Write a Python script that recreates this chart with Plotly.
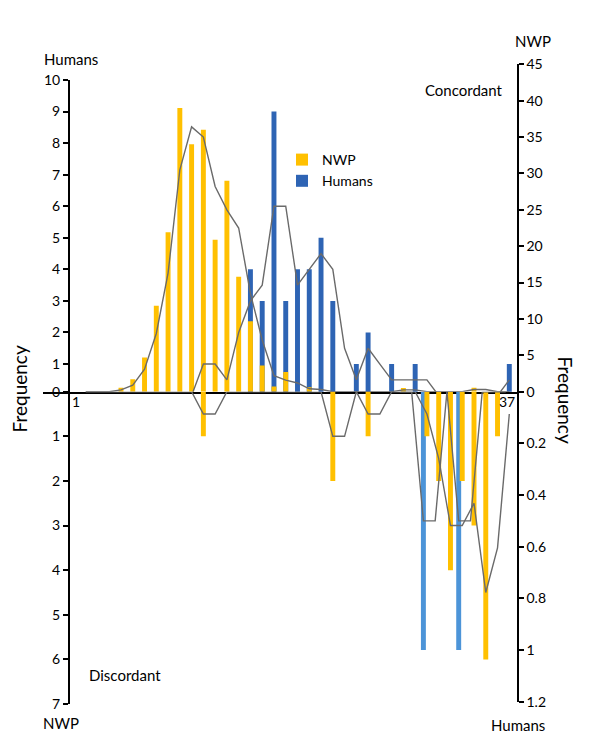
import plotly.graph_objects as go

# ---------------- data ----------------
categories = list(range(1, 38))

# Concordant (upper half)
nwp_concordant = [0, 0, 0, 0.55, 1.7, 4.7, 11.8, 21.9, 39.0, 34.0,
                  36.0, 20.9, 29.0, 15.8, 9.7, 3.6, 0.7, 2.7, 0, 0.6,
                  0, 0, 0, 0, 0, 0, 0, 0.5, 0, 0,
                  0, 0, 0, 0.55, 0, 0, 0]
humans_concordant = [0, 0, 0, 0, 0, 0, 0, 0, 0, 0,
                     0, 0, 0, 0, 4, 3, 9, 3, 4, 4,
                     5, 3, 0, 1, 2, 0, 1, 0, 1, 0,
                     0, 0, 0, 0, 0, 0, 1]

# Discordant (lower half)
nwp_discordant = [0, 0, 0, 0, 0, 0, 0, 0, 0, 0,
                  1, 0, 0, 0, 0, 0, 0, 0, 0, 0,
                  0, 2, 0, 0, 1, 0, 0, 0, 0, 1,
                  2, 4, 2, 3, 6, 1, 0]
humans_discordant = [0, 0, 0, 0, 0, 0, 0, 0, 0, 0,
                     0, 0, 0, 0, 0, 0, 0, 0, 0, 0,
                     0, 0, 0, 0, 0, 0, 0, 0, 0, 1,
                     0, 0, 1, 0, 0, 0, 0]

# trend lines (2-period moving averages as drawn)
nwp_conc_trend = [0, 0, 0, 0.25, 0.9, 3.1, 8.0, 16.3, 30.5, 36.4,
                  35.0, 28.2, 25.0, 22.5, 13.5, 7.1, 2.2, 1.6, 1.2, 0.4,
                  0.3, 0, 0, 0, 0, 0, 0, 0.25, 0.25, 0,
                  0, 0, 0, 0.3, 0.3, 0, 0]
humans_conc_trend = [0, 0, 0, 0, 0, 0, 0, 0, 0, 0,
                     1, 1, 0.5, 2, 3, 3.5, 6, 6, 3.5, 4,
                     4.5, 4, 1.5, 0.5, 1.5, 1, 0.5, 0.5, 0.5, 0.5,
                     0, 0, 0, 0, 0, 0, 0.5]
nwp_disc_trend = [0, 0, 0, 0, 0, 0, 0, 0, 0, 0,
                  0.5, 0.5, 0, 0, 0, 0, 0, 0, 0, 0,
                  0, 1, 1, 0, 0.5, 0.5, 0, 0, 0, 0.5,
                  1.5, 3, 3, 2.5, 4.5, 3.5, 0.5]
humans_disc_trend = [None, None, None, None, None, None, None, None, None, None,
                     None, None, None, None, None, None, None, None, None, None,
                     None, None, None, None, None, None, None, 0, 0, 0.5,
                     0.5, 0, 0.5, 0.5, 0, 0, 0]

left_upper_ticks = ["0", "1", "2", "3", "4", "5", "6", "7", "8", "9", "10"]
left_lower_ticks = ["1", "2", "3", "4", "5", "6", "7"]
right_lower_ticks = ["0.2", "0.4", "0.6", "0.8", "1", "1.2"]

# ---------------- style / layout ----------------
W, H = 600, 755
FONT = "Lato"
YELLOW = "#FFC000"
BLUE = "#2E64B4"
LBLUE = "#4C94D8"
LINE = "#6a6a6a"


def fx(p):
    return p / W


def fy(p):
    return (H - p) / H


ZERO = 391.7
TOP_L, TOP_R = 80.0, 64.3
BOT_L, BOT_R = 704.0, 701.7
X_LEFT, X_AXIS_L, X_AXIS_R = 43.0, 69.0, 516.7

# left-upper scale: value 10 at TOP_L, tick "0" at the zero line (axis min 0.124)
lu_min = 0.124
lu_scale = (ZERO - TOP_L) / (10 - lu_min)
rl_scale = (BOT_R - ZERO) / 1.2

fig = go.Figure()

bw = 0.42
fig.add_trace(go.Bar(x=categories, y=humans_concordant, name="Humans", marker_color=BLUE,
                     width=bw, xaxis="x", yaxis="y", legendrank=2))
fig.add_trace(go.Bar(x=categories, y=nwp_concordant, name="NWP", marker_color=YELLOW,
                     width=bw, xaxis="x", yaxis="y2", legendrank=1))
fig.add_trace(go.Bar(x=categories, y=humans_discordant, name="Humans discordant", marker_color=LBLUE,
                     width=bw, offset=-bw / 2 - 0.3, xaxis="x", yaxis="y3", showlegend=False))
fig.add_trace(go.Bar(x=categories, y=nwp_discordant, name="NWP discordant", marker_color=YELLOW,
                     width=bw, xaxis="x", yaxis="y4", showlegend=False))

line_style = dict(color=LINE, width=1.4)
fig.add_trace(go.Scatter(x=categories, y=nwp_conc_trend, mode="lines", line=line_style,
                         xaxis="x", yaxis="y2", showlegend=False, hoverinfo="skip"))
fig.add_trace(go.Scatter(x=categories, y=humans_conc_trend, mode="lines", line=line_style,
                         xaxis="x", yaxis="y5", showlegend=False, hoverinfo="skip"))
fig.add_trace(go.Scatter(x=categories, y=nwp_disc_trend, mode="lines", line=line_style,
                         xaxis="x", yaxis="y4", showlegend=False, hoverinfo="skip"))
fig.add_trace(go.Scatter(x=[c - 0.3 for c in categories], y=humans_disc_trend, mode="lines", line=line_style,
                         xaxis="x", yaxis="y6", showlegend=False, hoverinfo="skip", connectgaps=False))

axis_common = dict(showgrid=False, zeroline=False, showline=True, linecolor="black", linewidth=2,
                   ticks="outside", ticklen=5, tickwidth=1.5, tickcolor="black", automargin=False,
                   tickfont=dict(family=FONT, size=14, color="black"), fixedrange=True)

# x range: category 4 at px 121, 37 at px 509.3
step = (509.3 - 121.0) / 33
x0 = 4 + (X_LEFT - 121.0) / step
x1 = 4 + (X_AXIS_R - 121.0) / step

fig.update_layout(
    template="none",
    width=W, height=H, autosize=False,
    margin=dict(l=0, r=0, t=0, b=0, pad=0),
    paper_bgcolor="white", plot_bgcolor="rgba(0,0,0,0)",
    barmode="overlay",
    font=dict(family=FONT, size=14, color="black"),
    xaxis=dict(domain=[fx(X_LEFT), fx(X_AXIS_R)], range=[x0, x1], anchor="y",
               showgrid=False, zeroline=False, showline=True, linecolor="black", linewidth=2,
               showticklabels=False, ticks="", fixedrange=True, automargin=False),
    yaxis=dict(domain=[fy(ZERO), fy(TOP_L)], range=[lu_min, 10], anchor="free", position=fx(X_AXIS_L),
               side="left", tickvals=[lu_min, 1, 2, 3, 4, 5, 6, 7, 8, 9, 10], ticktext=left_upper_ticks,
               **axis_common),
    yaxis2=dict(domain=[fy(ZERO), fy(TOP_R)], range=[0, 45], anchor="x", side="right", dtick=5,
                **axis_common),
    yaxis3=dict(domain=[fy(BOT_R), fy(ZERO)], range=[1.2, 0], anchor="x", side="right",
                tickvals=[0.2, 0.4, 0.6, 0.8, 1.0, 1.2], ticktext=right_lower_ticks, **axis_common),
    yaxis4=dict(domain=[fy(BOT_L), fy(ZERO)], range=[7, 0], anchor="free", position=fx(X_AXIS_L),
                side="left", tickvals=[1, 2, 3, 4, 5, 6, 7], ticktext=left_lower_ticks, **axis_common),
    yaxis5=dict(overlaying="y2", anchor="x", visible=False, fixedrange=True, automargin=False,
                range=[lu_min, lu_min + (ZERO - TOP_R) / lu_scale]),
    yaxis6=dict(overlaying="y4", anchor="x", visible=False, fixedrange=True, automargin=False,
                range=[(BOT_L - ZERO) / rl_scale, 0]),
    legend=dict(x=fx(282), y=fy(144), xanchor="left", yanchor="top", bgcolor="rgba(0,0,0,0)",
                font=dict(family=FONT, size=14), tracegroupgap=0, itemclick=False, borderwidth=0),
    showlegend=True,
)

texts = [
    ("Humans", 41.7, 58.5, "left", 0, 15),
    ("NWP", 512.7, 41, "left", 0, 15),
    ("Concordant", 422.7, 90.5, "left", 0, 15),
    ("Discordant", 87.3, 675, "left", 0, 15),
    ("NWP", 40.7, 723, "left", 0, 15),
    ("Humans", 489.3, 724.5, "left", 0, 15),
    ("Frequency", 19.5, 389, "center", -90, 19),
    ("Frequency", 565.5, 400, "center", 90, 19),
]
for t, px, py, xa, ang, sz in texts:
    fig.add_annotation(text=t, x=fx(px), y=fy(py), xref="paper", yref="paper",
                       xanchor=xa, yanchor="middle", showarrow=False, textangle=ang,
                       font=dict(family=FONT, size=sz, color="black"))

# category labels at the ends of the axis
fig.add_annotation(text=str(categories[0]), x=categories[0], y=fy(401), xref="x", yref="paper",
                   xshift=-10, showarrow=False, yanchor="middle",
                   font=dict(family=FONT, size=14, color="black"))
fig.add_annotation(text=str(categories[-1]), x=categories[-1], y=fy(401), xref="x", yref="paper",
                   xshift=-2, showarrow=False, yanchor="middle",
                   font=dict(family=FONT, size=14, color="black"))

fig.write_html("out.html", config={"displayModeBar": False},
               post_script="document.body.style.margin='0px';")
